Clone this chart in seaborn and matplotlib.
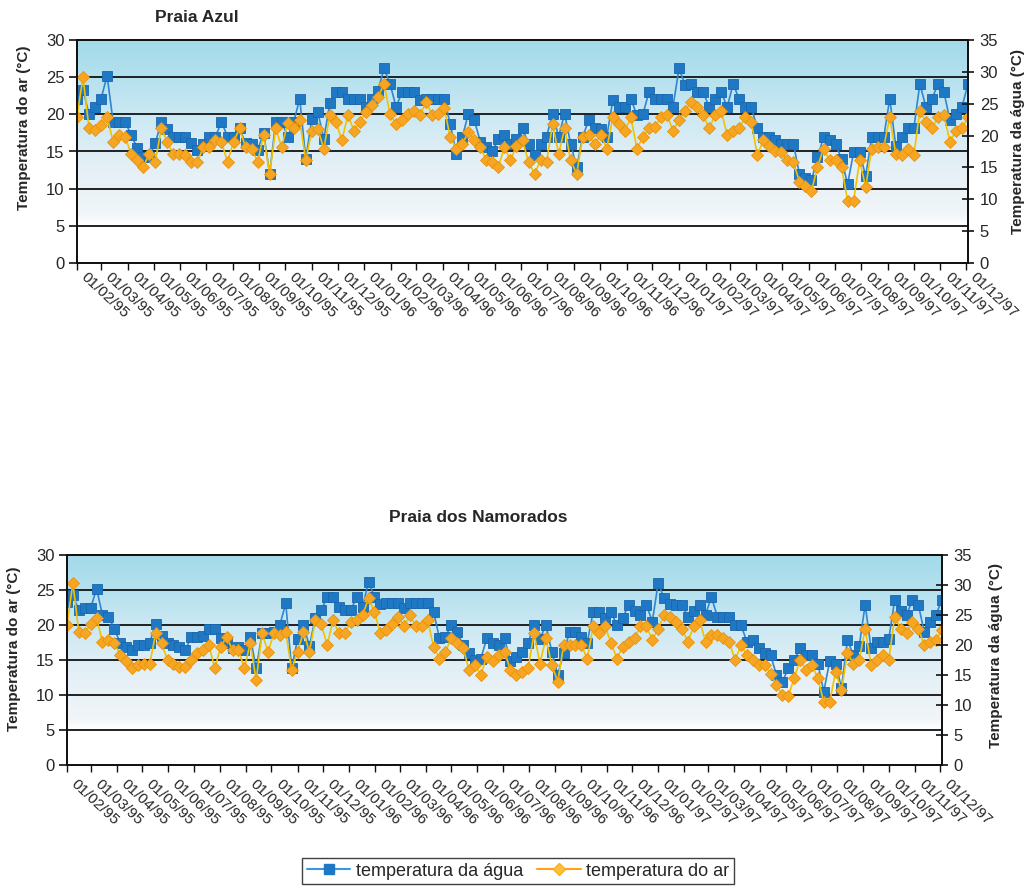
import numpy as np
import pandas as pd
import matplotlib
matplotlib.use("Agg")
import matplotlib.pyplot as plt
import matplotlib.dates as mdates
import matplotlib.transforms as mtransforms
from matplotlib.colors import LinearSegmentedColormap
from matplotlib.lines import Line2D
import seaborn as sns

# Weekly readings, starting 01/02/1995 (°C)
azul_agua = [
    22.1, 23.3, 20.0, 21.0, 22.1, 25.2, 19.0, 19.0, 19.0, 17.2,
    15.5, 14.3, 14.3, 16.1, 19.0, 18.0, 17.0, 17.0, 17.0, 16.1,
    15.2, 16.0, 17.0, 17.0, 19.0, 17.0, 17.0, 18.1, 16.1, 16.0,
    15.2, 17.5, 12.0, 19.0, 19.0, 17.0, 19.0, 22.1, 14.0, 19.4,
    20.3, 16.7, 21.5, 23.0, 23.0, 22.1, 22.1, 22.1, 21.0, 22.1,
    23.2, 26.2, 24.1, 21.0, 23.0, 23.0, 23.0, 21.9, 22.1, 22.1,
    22.1, 22.1, 18.7, 14.7, 16.9, 20.1, 19.2, 16.3, 15.6, 15.0,
    16.7, 17.2, 16.0, 16.7, 18.1, 16.0, 14.5, 16.0, 17.0, 20.1,
    17.0, 20.1, 16.0, 12.9, 17.0, 19.2, 18.1, 18.0, 17.0, 21.9,
    21.0, 21.0, 22.1, 19.9, 20.0, 23.0, 22.1, 22.1, 22.1, 21.0,
    26.2, 24.0, 24.1, 23.0, 23.0, 21.0, 22.0, 23.0, 21.0, 24.1,
    22.0, 21.0, 21.0, 18.1, 17.0, 16.9, 16.5, 16.0, 16.0, 16.0,
    12.0, 11.5, 11.1, 14.2, 16.9, 16.5, 16.0, 14.0, 10.6, 14.9,
    14.9, 11.7, 16.9, 16.9, 16.9, 22.1, 15.8, 16.9, 18.1, 18.1,
    24.1, 21.0, 22.0, 24.1, 23.0, 19.2, 20.1, 21.0, 24.1,
]
azul_ar = [
    19.7, 25.0, 18.1, 17.9, 18.5, 19.7, 16.3, 17.2, 17.0, 14.6,
    13.8, 12.9, 14.7, 13.6, 18.1, 16.3, 14.6, 14.6, 14.5, 13.6,
    13.6, 15.6, 15.6, 16.5, 16.3, 13.6, 16.3, 18.1, 15.6, 15.4,
    13.6, 17.2, 12.0, 18.1, 15.6, 18.8, 18.1, 19.2, 13.8, 17.8,
    18.0, 15.4, 19.9, 19.0, 16.5, 19.9, 17.8, 19.0, 20.3, 21.2,
    22.3, 24.1, 20.0, 18.7, 19.2, 20.1, 20.5, 19.9, 21.7, 19.9,
    20.1, 20.8, 16.9, 15.4, 16.0, 17.6, 16.5, 15.6, 13.8, 13.6,
    12.9, 15.6, 13.8, 15.8, 16.5, 13.6, 12.0, 13.8, 13.6, 18.7,
    14.7, 18.1, 13.8, 12.0, 17.0, 17.2, 16.0, 17.2, 15.4, 19.6,
    18.7, 17.8, 19.6, 15.4, 16.9, 18.1, 18.3, 19.6, 19.9, 17.8,
    19.2, 20.5, 21.7, 21.0, 19.9, 18.1, 19.9, 20.5, 17.2, 17.8,
    18.1, 19.6, 19.0, 14.5, 16.5, 15.8, 15.1, 14.9, 13.8, 13.6,
    10.9, 10.4, 9.7, 12.9, 15.4, 13.8, 13.8, 12.9, 8.4, 8.4,
    13.8, 10.2, 15.4, 15.6, 15.6, 19.6, 14.7, 14.5, 15.4, 14.5,
    20.5, 19.0, 18.1, 19.6, 19.9, 16.3, 17.8, 18.1, 19.6,
]
namorados_agua = [
    23.3, 24.3, 22.1, 22.4, 22.4, 25.2, 21.4, 21.2, 19.5, 17.4,
    16.8, 16.4, 17.1, 17.1, 17.5, 20.2, 18.5, 17.4, 17.1, 16.8,
    16.4, 18.3, 18.3, 18.5, 19.5, 19.5, 18.1, 17.5, 16.7, 16.8,
    16.5, 18.3, 13.8, 18.8, 18.8, 19.0, 20.0, 23.1, 13.8, 18.0,
    20.0, 17.0, 21.0, 22.1, 24.0, 24.0, 22.6, 22.1, 22.1, 24.0,
    22.6, 26.2, 24.0, 23.0, 23.1, 23.1, 23.1, 22.5, 23.1, 23.1,
    23.1, 23.1, 21.9, 18.1, 18.3, 20.0, 19.0, 17.1, 16.0, 15.0,
    15.2, 18.1, 17.5, 17.1, 18.1, 14.8, 15.5, 16.2, 17.5, 20.0,
    18.0, 20.0, 16.2, 12.9, 16.0, 19.0, 19.0, 18.3, 17.5, 21.9,
    21.9, 21.0, 21.9, 20.0, 21.0, 22.9, 22.0, 21.5, 22.9, 20.5,
    26.0, 23.8, 23.0, 22.9, 22.9, 21.2, 22.0, 22.9, 21.5, 24.0,
    21.2, 21.2, 21.2, 20.0, 20.0, 17.6, 17.9, 16.7, 16.0, 15.7,
    12.9, 11.9, 13.8, 15.0, 16.7, 15.7, 15.7, 14.5, 10.5, 14.8,
    14.5, 11.0, 17.9, 15.7, 17.0, 22.9, 16.7, 17.6, 17.6, 18.0,
    23.6, 22.0, 21.4, 23.6, 22.9, 19.0, 20.5, 21.5, 23.6,
]
namorados_ar = [
    20.0, 26.0, 19.0, 18.8, 20.2, 21.0, 17.6, 17.9, 17.4, 15.7,
    14.8, 13.8, 14.3, 14.5, 14.5, 18.8, 17.4, 15.0, 14.5, 14.0,
    14.0, 15.0, 16.0, 16.4, 17.1, 13.8, 16.9, 18.3, 16.4, 16.4,
    13.8, 17.4, 12.1, 18.8, 16.2, 18.8, 18.6, 19.0, 13.6, 16.2,
    19.0, 16.2, 20.7, 20.2, 17.1, 20.7, 18.8, 18.8, 20.5, 20.7,
    21.4, 23.8, 21.9, 18.8, 19.3, 20.2, 21.2, 19.8, 21.4, 19.8,
    19.8, 20.7, 16.9, 15.2, 16.2, 18.1, 17.4, 16.7, 13.6, 14.3,
    12.9, 15.5, 14.8, 15.7, 16.2, 13.6, 12.9, 13.3, 13.8, 18.8,
    14.5, 18.1, 14.3, 11.9, 17.1, 17.1, 17.1, 17.1, 15.2, 19.8,
    18.8, 19.8, 17.5, 15.2, 16.9, 17.6, 18.1, 19.8, 19.8, 17.9,
    19.5, 21.4, 21.2, 20.5, 19.5, 17.6, 19.8, 20.7, 17.6, 18.6,
    18.6, 18.1, 17.6, 15.0, 17.1, 15.7, 15.0, 14.3, 14.3, 13.0,
    11.4, 10.0, 9.8, 12.4, 15.0, 13.6, 14.3, 12.4, 9.0, 9.0,
    13.3, 10.7, 16.0, 14.5, 15.0, 19.5, 14.3, 15.0, 15.7, 15.0,
    21.2, 19.5, 18.8, 20.5, 19.5, 17.1, 17.6, 17.9, 19.3,
]

datas = pd.date_range("1995-02-01", periods=len(azul_ar), freq="7D")
meses = pd.date_range("1995-02-01", "1997-12-01", freq="MS")
rotulos_meses = [d.strftime("%d/%m/%y") for d in meses]

titulos = ["Praia Azul", "Praia dos Namorados"]
rotulo_ar = "Temperatura do ar (°C)"
rotulo_agua = "Temperatura da água (°C)"
serie_agua = "temperatura da água"
serie_ar = "temperatura do ar"

sns.set_theme(style="white")
plt.rcParams["font.family"] = ["Liberation Sans", "DejaVu Sans"]

COR_AGUA = "#1f78c4"
COR_AGUA_LINHA = "#2f86d2"
COR_AR = "#f6a623"
COR_AR_LINHA = "#f2c100"

fundo = LinearSegmentedColormap.from_list(
    "fundo",
    [(0.0, "#ffffff"), (0.17, "#ffffff"), (0.22, "#f1f5f8"),
     (0.45, "#e3eff6"), (0.65, "#cde9f3"), (0.85, "#b2e0ee"),
     (1.0, "#a2daea")],
)

W, H = 1026, 888
fig = plt.figure(figsize=(W / 100, H / 100), dpi=100)
fig.patch.set_facecolor("white")

# axes boxes in pixels: left, top, right, bottom
caixas = [(77, 40, 968, 263), (67, 555, 942, 765)]
series = [(azul_agua, azul_ar), (namorados_agua, namorados_ar)]
titulo_pos = [(197, 18), (478, 517)]
rot_esq = [(24, 128), (14, 649)]
rot_dir = [(1018, 142), (996, 655)]
# date labels sit a little right of and below their tick marks
desloc_px = [(11, -7), (11, -12)]

x0 = mdates.date2num(datas[0])
x1 = mdates.date2num(datas[-1])

for (l, t, r, b), (agua, ar), tit, pe, pd_, tp, dl in zip(
        caixas, series, titulos, rot_esq, rot_dir, titulo_pos, desloc_px):
    ax = fig.add_axes([l / W, 1 - b / H, (r - l) / W, (b - t) / H])
    grad = np.linspace(0, 1, 256).reshape(-1, 1)
    ax.imshow(grad, extent=[x0, x1, 0, 30], origin="lower", aspect="auto",
              cmap=fundo, zorder=0, interpolation="bilinear")
    for yv in range(5, 31, 5):
        ax.axhline(yv, color="#111111", lw=1.3, zorder=1)

    dfa = pd.DataFrame({"data": datas, "valor": agua})
    dfr = pd.DataFrame({"data": datas, "valor": ar})
    sns.lineplot(data=dfa, x="data", y="valor", ax=ax, color=COR_AGUA_LINHA,
                 lw=1.2, marker="s", markersize=7, markerfacecolor=COR_AGUA,
                 markeredgecolor="#1a66ad", markeredgewidth=0.6, zorder=3)
    sns.lineplot(data=dfr, x="data", y="valor", ax=ax, color=COR_AR_LINHA,
                 lw=1.2, marker="D", markersize=6, markerfacecolor=COR_AR,
                 markeredgecolor="#e8930c", markeredgewidth=0.6, zorder=4)

    ax.set_xlim(x0, x1)
    ax.set_ylim(0, 30)
    ax.set_yticks(range(0, 31, 5))
    ax.set_xticks(mdates.date2num(meses))
    ax.set_xticklabels([])
    desloc = mtransforms.ScaledTranslation(dl[0] / 100, dl[1] / 100,
                                           fig.dpi_scale_trans)
    trans_x = ax.get_xaxis_transform() + desloc
    for d, txt in zip(mdates.date2num(meses), rotulos_meses):
        ax.text(d, 0, txt, transform=trans_x, rotation=-43,
                rotation_mode="anchor", ha="left", va="top",
                fontsize=11, clip_on=False)
    ax.tick_params(axis="y", labelsize=12, direction="out", length=6,
                   width=1.2, color="#111111", left=True, pad=3)
    ax.tick_params(axis="x", direction="out", length=5, width=1.0,
                   color="#111111", bottom=True, pad=3)
    ax.set_xlabel("")
    ax.set_ylabel("")
    for s in ax.spines.values():
        s.set_color("#111111")
        s.set_linewidth(1.3)
    ax.grid(False)

    ax2 = ax.twinx()
    ax2.set_ylim(0, 35)
    ax2.set_yticks(range(0, 36, 5))
    ax2.tick_params(axis="y", labelsize=12, direction="inout", length=9,
                    width=1.2, color="#111111", right=True, pad=4)
    for s in ax2.spines.values():
        s.set_color("#111111")
        s.set_linewidth(1.3)
    ax2.grid(False)

    fig.text(tp[0] / W, 1 - tp[1] / H, tit, ha="center", va="center",
             fontsize=12.5, fontweight="bold")
    fig.text(pe[0] / W, 1 - pe[1] / H, rotulo_ar, rotation=90,
             ha="center", va="center", fontsize=11, fontweight="bold")
    fig.text(pd_[0] / W, 1 - pd_[1] / H, rotulo_agua, rotation=90,
             ha="center", va="center", fontsize=11, fontweight="bold")

alca_agua = Line2D([], [], color="#3a96e6", lw=1.5, marker="s", markersize=7,
                   markerfacecolor=COR_AGUA, markeredgecolor=COR_AGUA)
alca_ar = Line2D([], [], color="#ff9f1a", lw=1.5, marker="D", markersize=6,
                 markerfacecolor="#f8c23a", markeredgecolor="#f8b020")
leg = fig.legend([alca_agua, alca_ar], [serie_agua, serie_ar],
                 loc="center", bbox_to_anchor=(518 / W, 1 - 871 / H),
                 ncol=2, fontsize=13, frameon=True, fancybox=False,
                 handlelength=2.4, handletextpad=0.3, columnspacing=0.8,
                 borderpad=0.25, edgecolor="#111111")
leg.get_frame().set_linewidth(1.0)

fig.savefig("out.png", dpi=100, facecolor="white")
